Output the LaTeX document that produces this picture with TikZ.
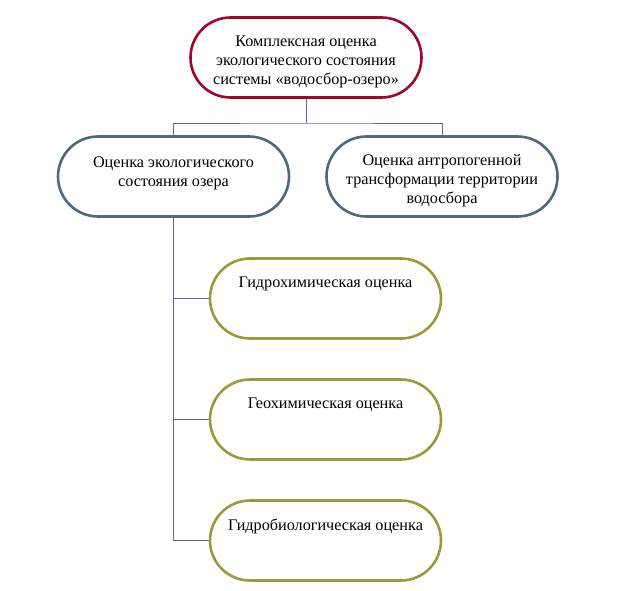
\documentclass[tikz,border=0pt]{standalone}
\usepackage{fontspec}
\setmainfont{Liberation Serif}
\usepackage{tikz}

\definecolor{topred}{HTML}{A2052E}
\definecolor{slate}{HTML}{4E687C}
\definecolor{olive}{HTML}{9A9A38}
\definecolor{wire}{HTML}{6464A4}

\begin{document}
\begin{tikzpicture}[x=1pt, y=-1pt,
  pill/.style={draw, line width=2.6pt, rounded corners=40pt, fill=white,
    minimum width=231pt, minimum height=80pt, align=center,
    font=\fontsize{16.2}{19}\selectfont},
  wire/.style={draw=wire, line width=0.9pt}]
  \useasboundingbox (0, 0) rectangle (624, 591);
  \node[pill, draw=topred, text height=54pt, text depth=0pt] (top) at (306, 57.5)
    {Комплексная оценка\\экологического состояния\\системы «водосбор-озеро»};
  \node[pill, draw=slate, text depth=10pt] (lake) at (173.5, 176.5)
    {Оценка экологического\\состояния озера};
  \node[pill, draw=slate, text height=55pt, text depth=0pt] (basin) at (442, 176.5)
    {Оценка антропогенной\\трансформации территории\\водосбора};
  \node[pill, draw=olive, text depth=32pt] (hydrochem) at (325.5, 298.5)
    {Гидрохимическая оценка};
  \node[pill, draw=olive, text depth=32pt] (geochem) at (325.5, 419.5)
    {Геохимическая оценка};
  \node[pill, draw=olive, text depth=32pt] (hydrobio) at (325.5, 540.5)
    {Гидробиологическая оценка};
  \coordinate (fork) at (306, 123);
  \draw[wire] (top.south) -- (fork);
  \draw[wire] (lake.north) |- (fork) -| (basin.north);
  \draw[wire] (lake.south) |- (hydrochem.west);
  \draw[wire] (lake.south) |- (geochem.west);
  \draw[wire] (lake.south) |- (hydrobio.west);
\end{tikzpicture}
\end{document}
